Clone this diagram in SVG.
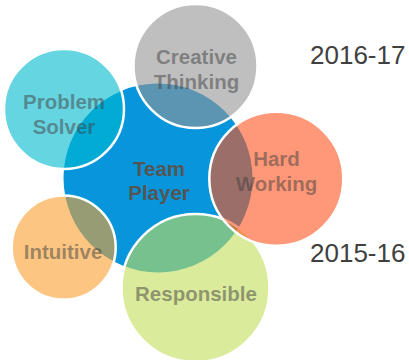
<svg xmlns="http://www.w3.org/2000/svg" width="409" height="360" viewBox="0 0 409 360">
  <style>
    .outer { fill-opacity: 0.6; stroke: #ffffff; stroke-width: 2.5; }
    .lbl { font-family: "Liberation Sans", Arial, sans-serif; font-weight: bold; font-size: 20.5px; text-anchor: middle; fill: #404040; fill-opacity: 0.5; }
    .center-lbl { font-family: "Liberation Sans", Arial, sans-serif; font-weight: bold; font-size: 20.5px; text-anchor: middle; fill: #555555; }
    .year { font-family: "Liberation Sans", Arial, sans-serif; font-size: 26px; fill: #404040; }
  </style>
  <rect width="409" height="360" fill="#ffffff"/>
  <g id="team-player">
    <circle cx="158" cy="178" r="94.5" fill="#0796DB"/>
  </g>
  <g id="creative-thinking">
    <circle class="outer" cx="195.5" cy="66" r="62" fill="#949494"/>
    <text class="lbl" x="196.5" y="64">Creative</text>
    <text class="lbl" x="196.5" y="89">Thinking</text>
  </g>
  <g id="responsible">
    <circle class="outer" cx="195.5" cy="288" r="74" fill="#C3DE5A"/>
    <text class="lbl" x="196" y="301">Responsible</text>
  </g>
  <g id="hard-working">
    <circle class="outer" cx="276.3" cy="178.8" r="67" fill="#FF531E"/>
    <text class="lbl" x="276.5" y="166">Hard</text>
    <text class="lbl" x="276.5" y="191">Working</text>
  </g>
  <g id="intuitive">
    <circle class="outer" cx="63.7" cy="247.5" r="52" fill="#FAA02F"/>
    <text class="lbl" x="63" y="259">Intuitive</text>
  </g>
  <g id="problem-solver">
    <circle class="outer" cx="64" cy="109" r="60" fill="#00B9CF"/>
    <text class="lbl" x="64" y="109">Problem</text>
    <text class="lbl" x="64" y="134">Solver</text>
  </g>
  <g id="team-player-label">
    <text class="center-lbl" x="159" y="176">Team</text>
    <text class="center-lbl" x="159" y="200">Player</text>
  </g>
  <g id="connectors"/>
  <g id="years">
    <text class="year" x="310" y="64">2016-17</text>
    <text class="year" x="310" y="262">2015-16</text>
  </g>
</svg>
